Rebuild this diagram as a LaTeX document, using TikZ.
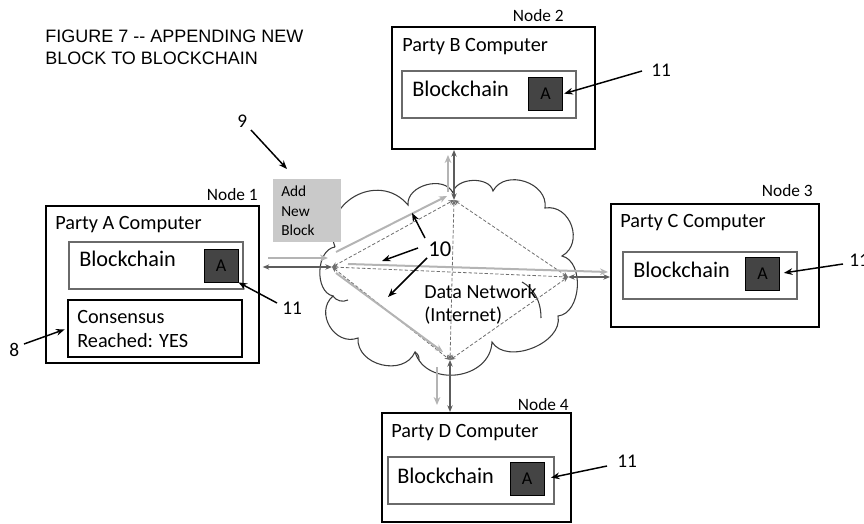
\documentclass[tikz,border=0pt]{standalone}
\usepackage{fontspec}
\setmainfont{Carlito}
\newfontfamily\capsfont{Liberation Sans}
\usetikzlibrary{arrows.meta,fit}
\newdimen\upx \upx=0.75pt
\definecolor{cloudink}{HTML}{3C3C3C}
\definecolor{netdark}{HTML}{5C5C5C}
\definecolor{netlight}{HTML}{B4B4B4}
\definecolor{netdash}{HTML}{6E6E6E}
\definecolor{blockfill}{HTML}{444444}
\definecolor{addfill}{HTML}{C9C9C9}
\definecolor{chainframe}{HTML}{6A6A6A}
\begin{document}
\begin{tikzpicture}[x=0.75pt,y=-0.75pt,
  outerbox/.style={draw=black,line width=1.5pt,inner sep=0pt},
  chainbox/.style={draw=chainframe,line width=1.1pt,inner sep=0pt},
  consbox/.style={draw=black,line width=1.2pt,inner sep=0pt},
  blockA/.style={draw=black,fill=blockfill,line width=0.6pt,inner sep=0pt,
    minimum width=34\upx,minimum height=33\upx,font=\fontsize{13.5}{16}\selectfont},
  partytxt/.style={anchor=base west,inner sep=0pt,font=\fontsize{15.2}{18}\selectfont},
  chaintxt/.style={anchor=base west,inner sep=0pt,font=\fontsize{16.7}{20}\selectfont},
  nodetxt/.style={anchor=base east,inner sep=0pt,font=\fontsize{13}{15}\selectfont},
  numtxt/.style={anchor=base west,inner sep=0pt,font=\fontsize{14.5}{17}\selectfont},
  addtxt/.style={anchor=base west,inner sep=0pt,font=\fontsize{11.5}{14}\selectfont},
  titletxt/.style={anchor=base west,inner sep=0pt,font=\capsfont\fontsize{13.5}{16}\selectfont},
  callout/.style={draw=black,line width=1.1pt,-{Stealth[length=6.5pt,width=5pt]}},
  darklink/.style={draw=netdark,line width=1.3pt,
    {Stealth[length=5pt,width=4pt]}-{Stealth[length=5pt,width=4pt]}},
  lightlink/.style={draw=netlight,line width=1.5pt,-{Stealth[length=6pt,width=5pt]}},
  dashlink/.style={draw=netdash,line width=0.6pt,dash pattern=on 2.5pt off 1.5pt,
    {Stealth[length=4pt,width=3.5pt]}-{Stealth[length=4pt,width=3.5pt]}},
  cloudline/.style={draw=cloudink,line width=0.8pt},
  puff/.style={bend left=80,looseness=#1},
  puff/.default=1.4
]
\useasboundingbox (0,0) rectangle (864,524);

% ---------- title ----------
\node[titletxt] (title1) at (45,43) {FIGURE 7 -{}- APPENDING NEW};
\node[titletxt] (title2) at (45,65) {BLOCK TO BLOCKCHAIN};

% ---------- data network cloud ----------
\draw[cloudline] (335,247) to[puff=1.4] (408,205) to[puff=1.1] (453,193)
  to[puff=1.0] (493,191) to[puff=1.2] (545,208) to[puff=1.3] (562,256)
  to[puff=1.0] (558,316) to[puff=1.0] (492,342) to[puff=1.25] (415,352)
  to[puff=1.2] (358,338) to[puff=1.3] (333,296) to[puff=1.0] (335,247);
\draw[cloudline] (333,296) to[bend right=40] (348,300);
\draw[cloudline] (541,318) .. controls (541,300) and (533,288) .. (522,282);
\draw[cloudline] (415,352) to[bend left=30] (419,360);

\coordinate (j1) at (332,267);
\coordinate (j2) at (454,200);
\coordinate (j3) at (568,277);
\coordinate (j4) at (450,360);

\node[anchor=base west,inner sep=0pt,font=\fontsize{15}{18}\selectfont] (net1) at (424,298) {Data Network};
\node[anchor=base west,inner sep=0pt,font=\fontsize{15}{18}\selectfont] (net2) at (424,321) {(Internet)};

% ---------- Party A ----------
\node[outerbox,fit={(46,206) (259,363)}] (pA) {};
\node[nodetxt] (n1) at (258,200) {Node 1};
\node[partytxt] (pAt) at (55,229) {Party A Computer};
\node[chainbox,fit={(69,242) (243,289)}] (cA) {};
\node[chaintxt] (cAt) at (79,267) {Blockchain};
\node[blockA] (aA) at (221,265.5) {A};
\node[consbox,fit={(68,300) (242,357)}] (kA) {};
\node[partytxt] (kAt1) at (77,323) {Consensus};
\node[partytxt] (kAt2) at (77,347) {Reached: YES};

% ---------- Party B ----------
\node[outerbox,fit={(392,27) (595,149)}] (pB) {};
\node[nodetxt] (n2) at (564,22) {Node 2};
\node[partytxt] (pBt) at (402,52) {Party B Computer};
\node[chainbox,fit={(402,71) (576,118)}] (cB) {};
\node[chaintxt] (cBt) at (412,97) {Blockchain};
\node[blockA] (aB) at (545.5,94) {A};

% ---------- Party C ----------
\node[outerbox,fit={(611,204) (819,327)}] (pC) {};
\node[nodetxt] (n3) at (813,197) {Node 3};
\node[partytxt] (pCt) at (620,228) {Party C Computer};
\node[chainbox,fit={(623,252) (797,299)}] (cC) {};
\node[chaintxt] (cCt) at (633,277) {Blockchain};
\node[blockA] (aC) at (762.5,273.5) {A};

% ---------- Party D ----------
\node[outerbox,fit={(382,413) (571,522)}] (pD) {};
\node[nodetxt] (n4) at (569,410) {Node 4};
\node[partytxt] (pDt) at (391,437) {Party D Computer};
\node[chainbox,fit={(388,457) (554,504)}] (cD) {};
\node[chaintxt] (cDt) at (397,483) {Blockchain};
\node[blockA] (aD) at (527,479) {A};

% ---------- new block ----------
\node[fill=addfill,inner sep=0pt,fit={(273,179) (341,242)}] (add) {};
\node[addtxt] (add1) at (281,197) {Add};
\node[addtxt] (add2) at (281,216) {New};
\node[addtxt] (add3) at (281,235) {Block};

% ---------- peer-to-peer links inside the network ----------
\draw[dashlink] (j1) -- (j2);
\draw[dashlink] (j1) -- (j3);
\draw[dashlink] (j1) -- (j4);
\draw[dashlink] (j2) -- (j3);
\draw[dashlink] (j2) -- (j4);
\draw[dashlink] (j4) -- (j3);

% ---------- broadcast of the new block ----------
\coordinate (l0s) at (268,258);  \coordinate (l0e) at (328,258);
\coordinate (l1s) at (336,252);  \coordinate (l1e) at (447,196);
\coordinate (l2s) at (348,264);  \coordinate (l2e) at (608,272);
\coordinate (l3s) at (336,273);  \coordinate (l3e) at (443,352);
\coordinate (l4s) at (448,192);  \coordinate (l4e) at (448,155);
\coordinate (l5s) at (437,367);  \coordinate (l5e) at (437,405);
\draw[lightlink] (l0s) -- (l0e);
\draw[lightlink] (l1s) -- (l1e);
\draw[lightlink] (l2s) -- (l2e);
\draw[lightlink] (l3s) -- (l3e);
\draw[lightlink] (l4s) -- (l4e);
\draw[lightlink] (l5s) -- (l5e);

% ---------- node connections to the network ----------
\draw[darklink,shorten >=2pt] (j1) -- (j1 -| pA.east);
\draw[darklink] (j2) -- (j2 |- pB.south);
\draw[darklink] (j3) -- (j3 -| pC.west);
\draw[darklink] (j4) -- (j4 |- pD.north);

% ---------- reference numerals ----------
\node[numtxt] (lab9) at (237,128) {9};
\coordinate (f9) at (251,130); \coordinate (t9) at (287,169);
\draw[callout] (f9) -- (t9);

\node[numtxt] (lab8) at (9,356) {8};
\coordinate (f8) at (24,344);
\draw[callout,shorten >=2pt] (f8) -- (kA.west);

\node[numtxt] (lab11a) at (282,314) {11};
\coordinate (f11a) at (277,303);
\draw[callout] (f11a) -- (aA.south east);

\node[numtxt] (lab11b) at (651,77) {11};
\coordinate (f11b) at (642,71);
\draw[callout,shorten >=1pt] (f11b) -- (aB.east);

\node[numtxt] (lab11c) at (849,266) {11};
\coordinate (f11c) at (843,264);
\draw[callout,shorten >=3pt] (f11c) -- (aC.east);

\node[numtxt] (lab11d) at (617,467) {11};
\coordinate (f11d) at (607,466);
\draw[callout,shorten >=5pt] (f11d) -- (aD.east);

\node[anchor=base west,inner sep=0pt,font=\fontsize{17}{20}\selectfont] (lab10) at (428,257) {10};
\coordinate (f10a) at (425,238); \coordinate (t10a) at (412,213);
\coordinate (f10b) at (418,248); \coordinate (t10b) at (382,261);
\coordinate (f10c) at (427,258); \coordinate (t10c) at (388,297);
\draw[callout] (f10a) -- (t10a);
\draw[callout] (f10b) -- (t10b);
\draw[callout] (f10c) -- (t10c);
\end{tikzpicture}
\end{document}
